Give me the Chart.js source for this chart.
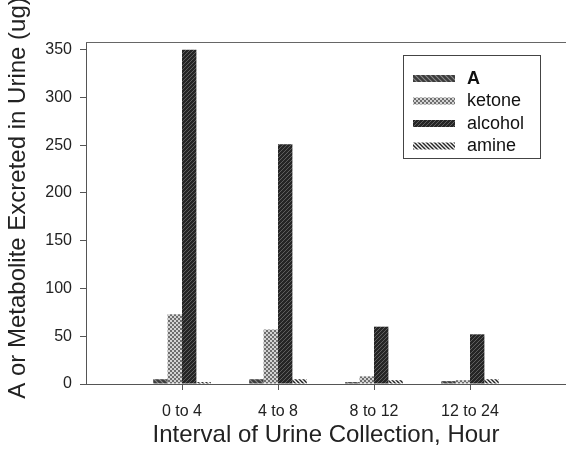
<!DOCTYPE html>
<html>
<head>
<meta charset="utf-8">
<script src="https://cdn.jsdelivr.net/npm/chart.js@4.4.0/dist/chart.umd.min.js"></script>
<style>
  html, body { margin: 0; padding: 0; background: #fff; }
  #wrap { position: relative; width: 566px; height: 456px; }
</style>
</head>
<body>
<div id="wrap"><canvas id="urineChart"></canvas></div>
<script>
// data
const intervals = ['0 to 4', '4 to 8', '8 to 12', '12 to 24'];
const seriesNames = ['A', 'ketone', 'alcohol', 'amine'];
const parentA = [5, 5, 2, 3];
const ketone = [73, 57, 8, 4];
const alcohol = [350, 251, 60, 52];
const amine = [2, 5, 4, 5];
const yTicks = [0, 50, 100, 150, 200, 250, 300, 350];

const FONT = '"Liberation Sans", Arial, Helvetica, sans-serif';
const helper = document.createElement('canvas').getContext('2d');

// hatch fills, like the print version
function stripes(bg, fg, size, lw, dir) {
    const c = document.createElement('canvas');
    c.width = c.height = size;
    const g = c.getContext('2d');
    g.fillStyle = bg;
    g.fillRect(0, 0, size, size);
    g.strokeStyle = fg;
    g.lineWidth = lw;
    g.beginPath();
    if (dir === '/') {
        g.moveTo(0, size); g.lineTo(size, 0);
        g.moveTo(-size, size); g.lineTo(size, -size);
        g.moveTo(0, size * 2); g.lineTo(size * 2, 0);
    } else {
        g.moveTo(0, 0); g.lineTo(size, size);
        g.moveTo(-size, 0); g.lineTo(size, size * 2);
        g.moveTo(0, -size); g.lineTo(size * 2, size);
    }
    g.stroke();
    return helper.createPattern(c, 'repeat');
}

// small checker of dark dots
function checker(bg, fg) {
    const c = document.createElement('canvas');
    c.width = c.height = 4;
    const g = c.getContext('2d');
    g.fillStyle = bg;
    g.fillRect(0, 0, 4, 4);
    g.fillStyle = fg;
    g.fillRect(0, 0, 2, 2);
    g.fillRect(2, 2, 2, 2);
    return helper.createPattern(c, 'repeat');
}

const fills = [
    stripes('#3c3c3c', '#8a8a8a', 5, 1.2, '\\'),
    checker('#d4d4d4', '#6e6e6e'),
    stripes('#252525', '#5e5e5e', 4, 1, '/'),
    stripes('#f4f4f4', '#222222', 4, 1.4, '\\')
];
const values = [parentA, ketone, alcohol, amine];

// empty slots at both ends so the groups sit on the printed ticks
const labels = [''].concat(intervals, ['']);

const datasets = seriesNames.map((name, i) => ({
    label: name,
    data: [null].concat(values[i], [null]),
    backgroundColor: fills[i],
    borderWidth: 0,
    categoryPercentage: 0.6,
    barPercentage: 1.0
}));

// top frame line, rotated y title and the boxed legend
const extras = {
    id: 'extras',
    afterDraw(chart) {
        const ctx = chart.ctx;
        const area = chart.chartArea;
        ctx.save();
        ctx.strokeStyle = '#666';
        ctx.lineWidth = 1;
        ctx.beginPath();
        ctx.moveTo(area.left, Math.round(area.top) + 0.5);
        ctx.lineTo(area.right, Math.round(area.top) + 0.5);
        ctx.stroke();

        ctx.save();
        ctx.translate(18, 198);
        ctx.rotate(-Math.PI / 2);
        ctx.font = '24px ' + FONT;
        ctx.fillStyle = '#222';
        ctx.textAlign = 'center';
        ctx.textBaseline = 'middle';
        ctx.fillText('A or Metabolite Excreted in Urine (ug)', 0, 0);
        ctx.restore();

        // legend
        ctx.strokeStyle = '#444';
        ctx.strokeRect(403.5, 55.5, 137, 103);
        const rows = [78, 100.5, 123, 145.5];
        seriesNames.forEach((name, i) => {
            ctx.fillStyle = fills[i];
            ctx.fillRect(413, rows[i] - 3, 42, 7);
            ctx.fillStyle = '#111';
            ctx.font = (i === 0 ? 'bold ' : '') + '18px ' + FONT;
            ctx.textAlign = 'left';
            ctx.textBaseline = 'middle';
            ctx.fillText(name, 467, rows[i] + 1);
        });
        ctx.restore();
    }
};

new Chart(document.getElementById('urineChart'), {
    type: 'bar',
    data: { labels: labels, datasets: datasets },
    options: {
        responsive: true,
        maintainAspectRatio: false,
        animation: false,
        layout: { padding: { top: 42, left: 0, right: 0, bottom: 0 } },
        plugins: {
            legend: { display: false },
            tooltip: { enabled: false }
        },
        scales: {
            x: {
                type: 'category',
                offset: false,
                // fixed height, and no side padding so the axis runs to the edge
                afterFit: (scale) => {
                    scale.height = 72;
                    scale.paddingRight = 0;
                },
                border: { color: '#555', width: 1 },
                grid: {
                    offset: false,
                    drawOnChartArea: false,
                    tickLength: 6,
                    color: (c) => (c.index === 0 || c.index === labels.length - 1) ? 'rgba(0,0,0,0)' : '#555'
                },
                ticks: {
                    font: { family: FONT, size: 16 },
                    color: '#222',
                    padding: 12,
                    maxRotation: 0,
                    autoSkip: false
                },
                title: {
                    display: true,
                    text: 'Interval of Urine Collection, Hour',
                    font: { family: FONT, size: 24 },
                    color: '#222',
                    padding: { top: 4, bottom: 6 }
                }
            },
            y: {
                min: 0,
                max: 358,
                afterFit: (scale) => { scale.width = 86; },
                afterBuildTicks: (scale) => { scale.ticks = yTicks.map(v => ({ value: v })); },
                border: { color: '#555', width: 1 },
                grid: { drawOnChartArea: false, tickLength: 6, color: '#555' },
                ticks: {
                    font: { family: FONT, size: 16 },
                    color: '#222',
                    padding: 8
                }
            }
        }
    },
    plugins: [extras]
});
</script>
</body>
</html>
